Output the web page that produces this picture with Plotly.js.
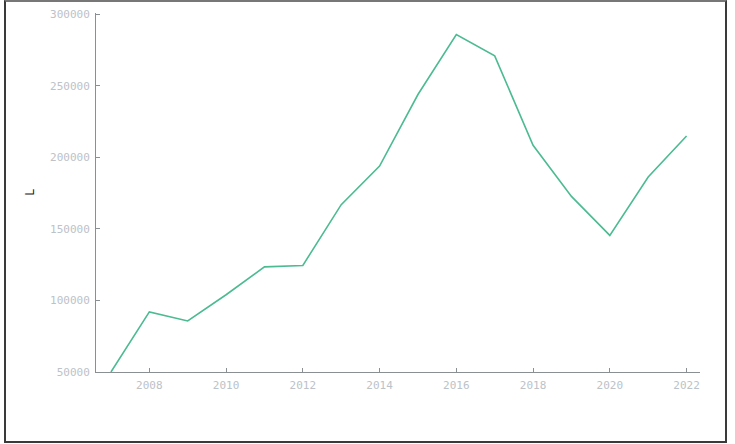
<!DOCTYPE html>
<html>
<head>
<meta charset="utf-8">
<script src="https://cdn.plot.ly/plotly-3.0.1.min.js"></script>
<style>
  html, body { margin: 0; padding: 0; background: #fff; }
  #chart { position: absolute; left: 0; top: 0; width: 735px; height: 444px; }
  #frame {
    position: absolute; left: 4px; top: 0; width: 723px; height: 443px;
    box-sizing: border-box; border: 2px solid #3a3a3a; border-top-color: #777;
    pointer-events: none;
  }
</style>
</head>
<body>
<div id="chart"></div>
<div id="frame"></div>
<script>
// Yearly totals, 2007-2022
const years = [2007, 2008, 2009, 2010, 2011, 2012, 2013, 2014, 2015, 2016, 2017, 2018, 2019, 2020, 2021, 2022];
const values = [50000, 92000, 85700, 104000, 123500, 124500, 167000, 194000, 244000, 286000, 271000, 208500, 172800, 145500, 186300, 215000];
const xTicks = [2008, 2010, 2012, 2014, 2016, 2018, 2020, 2022];
const yTicks = [50000, 100000, 150000, 200000, 250000, 300000];
const yTitle = "L";

const tickFont = { family: "DejaVu Sans Mono, monospace", size: 11, color: "#bcc2c8" };

Plotly.newPlot("chart", [{
  x: years,
  y: values,
  type: "scatter",
  mode: "lines",
  line: { color: "#4cbb92", width: 1.6 },
  hoverinfo: "none"
}], {
  width: 735,
  height: 444,
  margin: { l: 96, r: 35, t: 13, b: 72, pad: 0 },
  paper_bgcolor: "#fff",
  plot_bgcolor: "#fff",
  showlegend: false,
  xaxis: {
    range: [2006.61, 2022.35],
    tickvals: xTicks,
    ticktext: xTicks.map(String),
    ticks: "inside",
    ticklen: 4,
    tickcolor: "#8a8f94",
    showline: true,
    linecolor: "#8a8f94",
    linewidth: 1,
    showgrid: false,
    zeroline: false,
    tickfont: tickFont,
    ticklabelstandoff: 3
  },
  yaxis: {
    range: [50000, 301000],
    tickvals: yTicks,
    ticktext: yTicks.map(String),
    ticks: "inside",
    ticklen: 4,
    tickcolor: "#8a8f94",
    showline: true,
    linecolor: "#8a8f94",
    linewidth: 1,
    showgrid: false,
    zeroline: false,
    tickfont: tickFont,
    ticklabelstandoff: 3,
    title: { text: yTitle, font: { family: "DejaVu Sans, sans-serif", size: 12, color: "#222" }, standoff: 12 }
  }
}, { staticPlot: true, displayModeBar: false });
</script>
</body>
</html>
